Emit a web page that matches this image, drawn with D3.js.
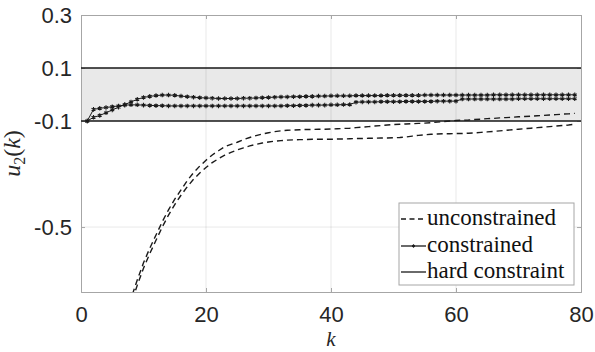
<!DOCTYPE html>
<html>
<head>
<meta charset="utf-8">
<script src="https://cdn.jsdelivr.net/npm/d3@7"></script>
<style>
  body { margin: 0; background: #fff; }
  .tick text { font-family: "Liberation Sans", Arial, Helvetica, sans-serif; }
</style>
</head>
<body>
<div id="chart"></div>
<script>
// step index
var kSteps = d3.range(1, 80);

// unconstrained responses (two runs)
var unconA = [-1.45,-1.33,-1.22,-1.11,-1.01,-0.93,-0.85,-0.77,-0.70,-0.635,
  -0.58,-0.53,-0.48,-0.435,-0.395,-0.36,-0.325,-0.295,-0.27,-0.248,
  -0.228,-0.212,-0.197,-0.188,-0.180,-0.170,-0.162,-0.155,-0.149,-0.144,
  -0.140,-0.137,-0.135,-0.134,-0.133,-0.132,-0.132,-0.131,-0.131,-0.130,
  -0.129,-0.128,-0.127,-0.125,-0.123,-0.121,-0.119,-0.117,-0.115,-0.113,
  -0.112,-0.111,-0.110,-0.109,-0.108,-0.106,-0.104,-0.102,-0.100,-0.098,
  -0.097,-0.096,-0.094,-0.093,-0.091,-0.090,-0.088,-0.087,-0.086,-0.084,
  -0.083,-0.082,-0.080,-0.079,-0.077,-0.076,-0.074,-0.073,-0.071];
var unconB = [-1.47,-1.35,-1.24,-1.13,-1.03,-0.95,-0.87,-0.79,-0.72,-0.655,
  -0.60,-0.55,-0.50,-0.455,-0.415,-0.38,-0.348,-0.32,-0.296,-0.275,
  -0.257,-0.242,-0.229,-0.218,-0.209,-0.201,-0.194,-0.188,-0.183,-0.179,
  -0.176,-0.174,-0.172,-0.171,-0.170,-0.170,-0.169,-0.169,-0.169,-0.169,
  -0.168,-0.168,-0.167,-0.166,-0.166,-0.165,-0.165,-0.164,-0.164,-0.163,
  -0.162,-0.160,-0.157,-0.154,-0.152,-0.150,-0.149,-0.148,-0.148,-0.147,
  -0.147,-0.146,-0.145,-0.143,-0.141,-0.139,-0.137,-0.135,-0.133,-0.131,
  -0.129,-0.127,-0.125,-0.123,-0.121,-0.119,-0.117,-0.115,-0.112];

// constrained responses (two runs)
var conA = [-0.100,-0.086,-0.079,-0.069,-0.058,-0.048,-0.038,-0.028,-0.018,-0.011,
  -0.007,-0.004,-0.002,-0.002,-0.003,-0.006,-0.008,-0.010,-0.012,-0.013,
  -0.014,-0.015,-0.015,-0.015,-0.015,-0.014,-0.014,-0.013,-0.012,-0.011,
  -0.010,-0.009,-0.009,-0.008,-0.008,-0.007,-0.007,-0.006,-0.006,-0.005,
  -0.005,-0.005,-0.005,-0.004,-0.004,-0.004,-0.004,-0.004,-0.003,-0.003,
  -0.003,-0.003,-0.003,-0.003,-0.002,-0.002,-0.002,-0.002,-0.002,-0.002,
  -0.002,-0.002,-0.002,-0.002,-0.002,-0.001,-0.001,-0.001,-0.001,-0.001,
  -0.001,-0.001,-0.001,-0.001,-0.001,-0.001,-0.001,-0.001,-0.001];
var conB = [-0.100,-0.056,-0.052,-0.049,-0.046,-0.043,-0.040,-0.039,-0.039,-0.040,
  -0.041,-0.042,-0.042,-0.043,-0.043,-0.043,-0.043,-0.043,-0.043,-0.043,
  -0.043,-0.043,-0.043,-0.043,-0.043,-0.043,-0.043,-0.043,-0.043,-0.043,
  -0.043,-0.043,-0.042,-0.042,-0.041,-0.041,-0.040,-0.040,-0.040,-0.039,
  -0.039,-0.038,-0.038,-0.029,-0.028,-0.028,-0.028,-0.027,-0.027,-0.027,
  -0.027,-0.026,-0.026,-0.026,-0.026,-0.026,-0.025,-0.025,-0.025,-0.025,
  -0.017,-0.017,-0.017,-0.017,-0.017,-0.017,-0.017,-0.017,-0.017,-0.016,
  -0.016,-0.016,-0.016,-0.016,-0.016,-0.016,-0.016,-0.016,-0.016];

var bounds = [-0.1, 0.1];
var xTicks = [0, 20, 40, 60, 80];
var yTicks = [-0.5, -0.1, 0.1, 0.3];
var yTickLabels = ["-0.5", "-0.1", "0.1", "0.3"];
var legendLabels = ["unconstrained", "constrained", "hard constraint"];

var SERIF = "'Liberation Serif', 'DejaVu Serif', serif";

var margin = {top: 15, right: 14, bottom: 60, left: 81};
var W = 595, H = 352;
var width = W - margin.left - margin.right;
var height = H - margin.top - margin.bottom;

var svg = d3.select("#chart").append("svg")
  .attr("width", W).attr("height", H);

var g = svg.append("g")
  .attr("transform", `translate(${margin.left},${margin.top})`);

var x = d3.scaleLinear().domain([0, 80]).range([0, width]);
var y = d3.scaleLinear().domain([-0.745, 0.3]).range([height, 0]);

svg.append("defs").append("clipPath").attr("id", "clip")
  .append("rect").attr("width", width).attr("height", height);

// constraint band
g.append("rect")
  .attr("x", x(0)).attr("width", x(80) - x(0))
  .attr("y", y(bounds[1])).attr("height", y(bounds[0]) - y(bounds[1]))
  .attr("fill", "#e9e9e9");

// grid
g.append("g").selectAll("line").data([20, 40, 60]).enter().append("line")
  .attr("x1", d => x(d)).attr("x2", d => x(d))
  .attr("y1", 0).attr("y2", height)
  .attr("stroke", "#000").attr("stroke-opacity", 0.09);
g.append("g").selectAll("line").data(yTicks.slice(0, 3)).enter().append("line")
  .attr("y1", d => y(d)).attr("y2", d => y(d))
  .attr("x1", 0).attr("x2", width)
  .attr("stroke", "#000").attr("stroke-opacity", 0.09);

// axes (MATLAB style: inner ticks, box)
var xAxis = g.append("g")
  .attr("transform", `translate(0,${height})`)
  .call(d3.axisBottom(x).tickValues(xTicks).tickSize(-4).tickPadding(14));
var xAxisTop = g.append("g")
  .call(d3.axisTop(x).tickValues(xTicks).tickSize(-4).tickFormat(""));
var yAxis = g.append("g")
  .call(d3.axisLeft(y).tickValues(yTicks).tickSize(-4).tickPadding(9)
    .tickFormat((d, i) => yTickLabels[i]));
var yAxisRight = g.append("g")
  .attr("transform", `translate(${width},0)`)
  .call(d3.axisRight(y).tickValues(yTicks).tickSize(-4).tickFormat(""));

[xAxis, xAxisTop, yAxis, yAxisRight].forEach(function(a) {
  a.attr("font-family", null);
  a.select(".domain").attr("stroke", "#a6a6a6").attr("stroke-width", 1);
  a.selectAll(".tick line").attr("stroke", "#a6a6a6");
  a.selectAll(".tick text").attr("fill", "#262626").style("font-size", "22px");
});
yAxis.selectAll(".tick text").attr("dy", "0.36em");

var plot = g.append("g").attr("clip-path", "url(#clip)");

var line = d3.line().x((d, i) => x(kSteps[i])).y(d => y(d));

// hard constraint lines
plot.selectAll(".bound").data(bounds).enter().append("line")
  .attr("x1", x(0)).attr("x2", x(80))
  .attr("y1", d => y(d)).attr("y2", d => y(d))
  .attr("stroke", "#1a1a1a").attr("stroke-width", 1.4);

// unconstrained
[unconA, unconB].forEach(function(s) {
  plot.append("path").datum(s)
    .attr("d", line)
    .attr("fill", "none")
    .attr("stroke", "#1a1a1a")
    .attr("stroke-width", 1.4)
    .attr("stroke-dasharray", "6,4");
});

// constrained with asterisk markers
var star = d3.symbol().type(d3.symbolAsterisk).size(14);
[conA, conB].forEach(function(s) {
  plot.append("path").datum(s)
    .attr("d", line)
    .attr("fill", "none")
    .attr("stroke", "#1a1a1a")
    .attr("stroke-width", 1);
  plot.append("g").selectAll("path").data(s).enter().append("path")
    .attr("d", star)
    .attr("transform", (d, i) => `translate(${x(kSteps[i])},${y(d)})`)
    .attr("fill", "none")
    .attr("stroke", "#1a1a1a")
    .attr("stroke-width", 1.1);
});

// axis labels
g.append("text")
  .attr("x", width / 2).attr("y", height + 54)
  .attr("text-anchor", "middle")
  .attr("font-family", SERIF)
  .attr("font-style", "italic")
  .attr("font-size", 21)
  .attr("fill", "#262626")
  .text("k");

var yl = g.append("text")
  .attr("transform", `translate(-61,${height / 2}) rotate(-90)`)
  .attr("text-anchor", "middle")
  .attr("font-family", SERIF)
  .attr("font-size", 24)
  .attr("fill", "#262626");
yl.append("tspan").attr("font-style", "italic").text("u");
yl.append("tspan").attr("dy", 5).attr("font-size", 16).text("2");
yl.append("tspan").attr("dy", -5).text("(");
yl.append("tspan").attr("font-style", "italic").text("k");
yl.append("tspan").text(")");

// legend
var lg = svg.append("g").attr("transform", "translate(399,203)");
lg.append("rect")
  .attr("width", 175).attr("height", 82)
  .attr("fill", "#fff").attr("stroke", "#a6a6a6");
var rowY = [16, 43, 69];
legendLabels.forEach(function(lbl, i) {
  var r = lg.append("g").attr("transform", `translate(0,${rowY[i]})`);
  var ln = r.append("line").attr("x1", 2).attr("x2", 27)
    .attr("stroke", "#1a1a1a").attr("stroke-width", 1.3);
  if (i === 0) ln.attr("stroke-dasharray", "5,3.5");
  if (i === 1) r.append("path").attr("d", d3.symbol().type(d3.symbolAsterisk).size(8))
    .attr("transform", "translate(14.5,0)").attr("stroke", "#1a1a1a").attr("fill", "none");
  r.append("text").attr("x", 28).attr("y", 6)
    .attr("font-family", SERIF)
    .attr("font-size", 23)
    .attr("fill", "#111")
    .text(lbl);
});
</script>
</body>
</html>
